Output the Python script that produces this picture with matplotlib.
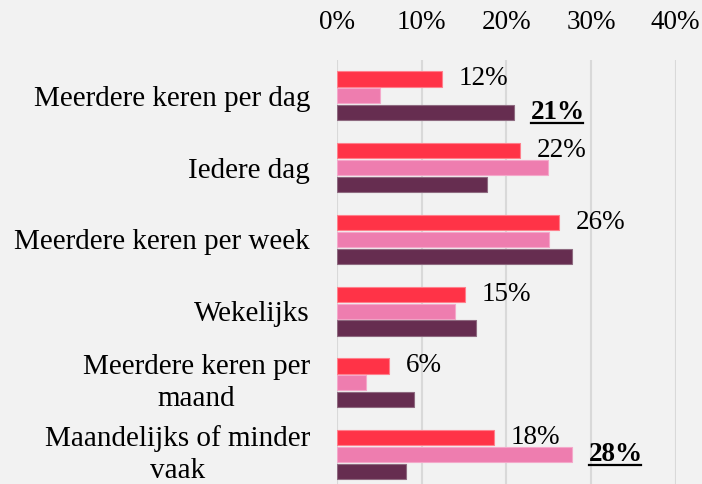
import matplotlib
matplotlib.use("Agg")
import matplotlib.pyplot as plt
import numpy as np
from matplotlib.lines import Line2D

categories = ["Meerdere keren per dag", "Iedere dag", "Meerdere keren per week",
              "Wekelijks", "Meerdere keren per\nmaand", "Maandelijks of minder\nvaak"]
series_red = [12.4, 21.6, 26.2, 15.1, 6.1, 18.5]
series_pink = [5.1, 24.9, 25.0, 13.9, 3.4, 27.7]
series_purple = [20.9, 17.7, 27.7, 16.4, 9.1, 8.1]
red_labels = ["12%", "22%", "26%", "15%", "6%", "18%"]
bold_labels = [(0, "purple", "21%"), (5, "pink", "28%")]
x_ticks = [0, 10, 20, 30, 40]
x_tick_labels = ["0%", "10%", "20%", "30%", "40%"]

colors = {"red": "#FF3347", "pink": "#EE7DAF", "purple": "#662D50"}
edge = {"red": "#FF7F8C", "pink": "#F4A8CA", "purple": "#8E6A80"}
FONT = "Liberation Serif"
FS = 19.5
FS_CAT = 21

W, H = 702, 484
fig = plt.figure(figsize=(W / 100, H / 100), dpi=100)
fig.patch.set_facecolor("#F2F2F2")

left, right = 337 / W, 675.7 / W
top_px, bot_px = 60, 490.5
ax = fig.add_axes([left, 1 - bot_px / H, right - left, (bot_px - top_px) / H])
ax.set_facecolor("#F2F2F2")

y = np.arange(len(categories))
off = 0.236
h = 0.212
data = {"red": series_red, "pink": series_pink, "purple": series_purple}
offsets = {"red": -off, "pink": 0.0, "purple": off}
for key in ["red", "pink", "purple"]:
    ax.barh(y + offsets[key], data[key], height=h, color=colors[key],
            edgecolor=edge[key], linewidth=0.8, zorder=3)

for i, lab in enumerate(red_labels):
    ax.annotate(lab, xy=(series_red[i], y[i] - off), xytext=(12.3, 0),
                textcoords="offset points", ha="left", va="center",
                fontsize=FS, family=FONT, color="black", zorder=4)

bold_texts = []
for i, key, lab in bold_labels:
    t = ax.annotate(lab, xy=(data[key][i], y[i] + offsets[key]), xytext=(12.3, 0),
                    textcoords="offset points", ha="left", va="center",
                    fontsize=FS, family=FONT, fontweight="bold", color="black", zorder=4)
    bold_texts.append(t)

ax.set_xlim(0, 40)
ax.set_ylim(len(categories) - 0.5, -0.5)
ax.set_xticks(x_ticks)
ax.set_xticklabels(x_tick_labels, fontsize=FS, family=FONT)
ax.xaxis.tick_top()
ax.tick_params(axis="x", length=0, pad=18)
ax.set_yticks(y)
ax.set_yticklabels(categories, fontsize=FS_CAT, family=FONT, multialignment="center",
                   linespacing=1.3)
for lbl in ax.get_yticklabels():
    if "\n" in lbl.get_text():
        lbl.set_verticalalignment("center")
ax.tick_params(axis="y", length=0, pad=19.5)
for s in ax.spines.values():
    s.set_visible(False)
ax.grid(axis="x", color="#D9D9D9", linewidth=1.5, zorder=0)
ax.set_axisbelow(True)

fig.canvas.draw()
renderer = fig.canvas.get_renderer()
for t in bold_texts:
    bb = t.get_window_extent(renderer)
    yl = bb.y0 + 2.5
    fig.add_artist(Line2D([bb.x0 / W, (bb.x1 - 2) / W], [yl / H, yl / H],
                          color="black", linewidth=1.6, transform=fig.transFigure))

fig.savefig("out.png", dpi=100, facecolor=fig.get_facecolor())
